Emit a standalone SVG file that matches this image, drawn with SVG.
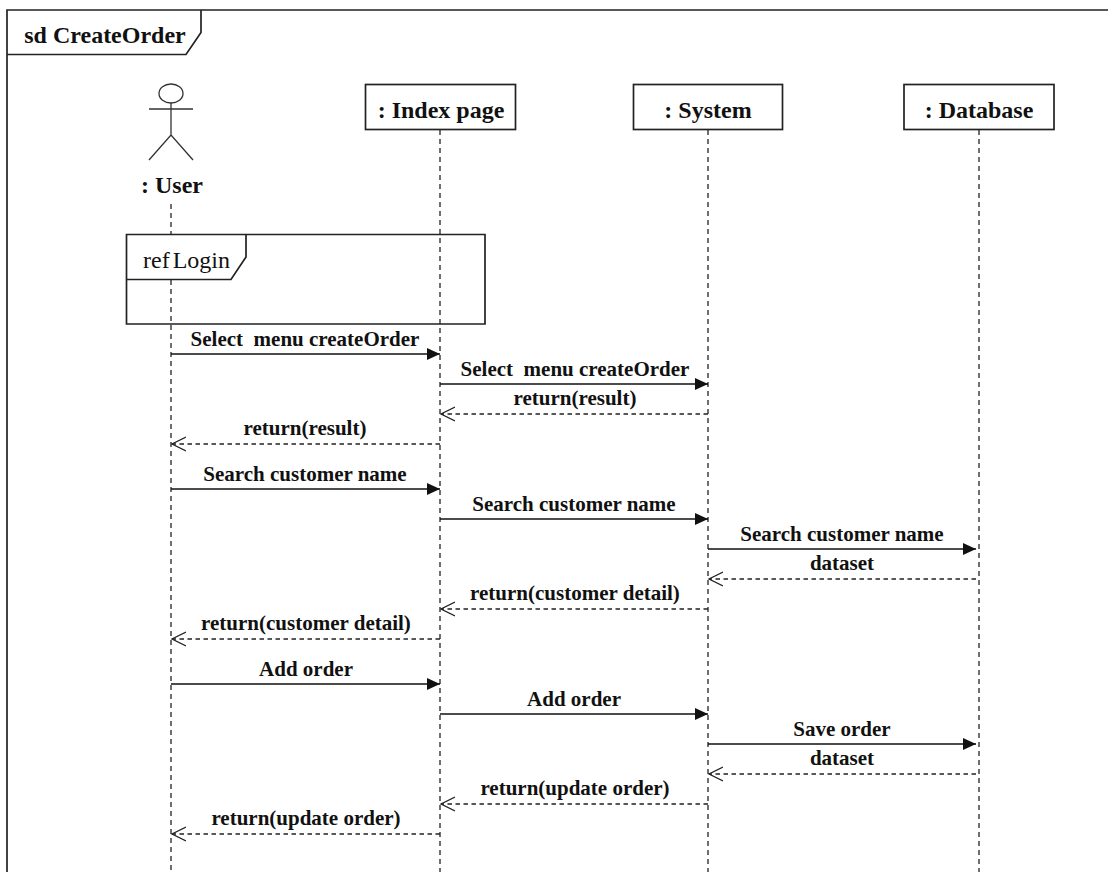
<svg xmlns="http://www.w3.org/2000/svg" width="1108" height="872" viewBox="0 0 1108 872">
<style>
text{font-family:"Liberation Serif","Times New Roman",serif;fill:#111;text-anchor:middle;white-space:pre}
.b{font-weight:bold}
.t{font-size:24px}
.m{font-size:21px}
.box{fill:#fff;stroke:#222;stroke-width:1.7}
.fr{fill:none;stroke:#222;stroke-width:1.7}
.ll{stroke:#333;stroke-width:1.4;stroke-dasharray:5 4;fill:none}
.s{stroke:#111;stroke-width:1.6;fill:none;marker-end:url(#fa)}
.d{stroke:#222;stroke-width:1.4;stroke-dasharray:4.5 3.5;fill:none;marker-end:url(#oa)}
.ac{stroke:#333;stroke-width:1.3;fill:none}
</style>
<defs>
<marker id="fa" markerUnits="userSpaceOnUse" markerWidth="14" markerHeight="12" refX="13" refY="6" orient="auto"><path d="M0 0L13 6L0 12Z" fill="#111"/></marker>
<marker id="oa" markerUnits="userSpaceOnUse" markerWidth="16" markerHeight="16" refX="14" refY="8" orient="auto"><path d="M0 1L14 8L0 15" fill="none" stroke="#222" stroke-width="1.3" stroke-dasharray="none"/></marker>
</defs>
<rect width="1108" height="872" fill="#fff"/>
<g id="frame">
<path class="fr" d="M1108 10H7V872"/>
<path class="fr" d="M7 54.500H186L201 32.500V10"/>
<text class="b t" x="105" y="43">sd CreateOrder</text>
</g>
<g id="connectors">
<path class="ll" d="M171 204V234M171 280V872"/>
<path class="ll" d="M440 130V872"/>
<path class="ll" d="M708 130V872"/>
<path class="ll" d="M979 130V872"/>
<path class="s" d="M171 354H440"/>
<path class="s" d="M440 384H708"/>
<path class="d" d="M708 414H441"/>
<path class="d" d="M440 444H172"/>
<path class="s" d="M171 489H440"/>
<path class="s" d="M440 519H708"/>
<path class="s" d="M708 549H976"/>
<path class="d" d="M976 579H709"/>
<path class="d" d="M708 609H441"/>
<path class="d" d="M440 639H172"/>
<path class="s" d="M171 684H440"/>
<path class="s" d="M440 714H708"/>
<path class="s" d="M708 744H976"/>
<path class="d" d="M976 774H709"/>
<path class="d" d="M708 804H441"/>
<path class="d" d="M440 834H172"/>
</g>
<g id="user">
<ellipse class="ac" cx="171" cy="93.500" rx="12" ry="9.500"/>
<path class="ac" d="M171 103V135M149 109H193M149 160L171 135L193 160"/>
<text class="b t" x="172" y="193">: User</text>
</g>
<g id="index-page">
<rect class="box" x="365.500" y="84.500" width="150" height="45"/>
<text class="b t" x="441" y="118">: Index page</text>
</g>
<g id="system">
<rect class="box" x="633.500" y="84.500" width="149" height="45"/>
<text class="b t" x="708" y="118">: System</text>
</g>
<g id="database">
<rect class="box" x="904" y="84.500" width="150" height="45"/>
<text class="b t" x="979" y="118">: Database</text>
</g>
<g id="ref-login">
<path class="fr" d="M126.500 234.500H485V324H126.500Z"/>
<path class="fr" d="M126.500 279.500H231L246 257V234.500"/>
<text class="t" x="186.500" y="268" word-spacing="-3">ref Login</text>
</g>
<g id="labels">
<text class="b m" x="305" y="346">Select  menu createOrder</text>
<text class="b m" x="575" y="376">Select  menu createOrder</text>
<text class="b m" x="575" y="405">return(result)</text>
<text class="b m" x="305" y="435">return(result)</text>
<text class="b m" x="305" y="481">Search customer name</text>
<text class="b m" x="574" y="511">Search customer name</text>
<text class="b m" x="842" y="541">Search customer name</text>
<text class="b m" x="842" y="570">dataset</text>
<text class="b m" x="575" y="600">return(customer detail)</text>
<text class="b m" x="306" y="630">return(customer detail)</text>
<text class="b m" x="306" y="676">Add order</text>
<text class="b m" x="574" y="706">Add order</text>
<text class="b m" x="842" y="736">Save order</text>
<text class="b m" x="842" y="765">dataset</text>
<text class="b m" x="575" y="795">return(update order)</text>
<text class="b m" x="306" y="825">return(update order)</text>
</g>
</svg>
